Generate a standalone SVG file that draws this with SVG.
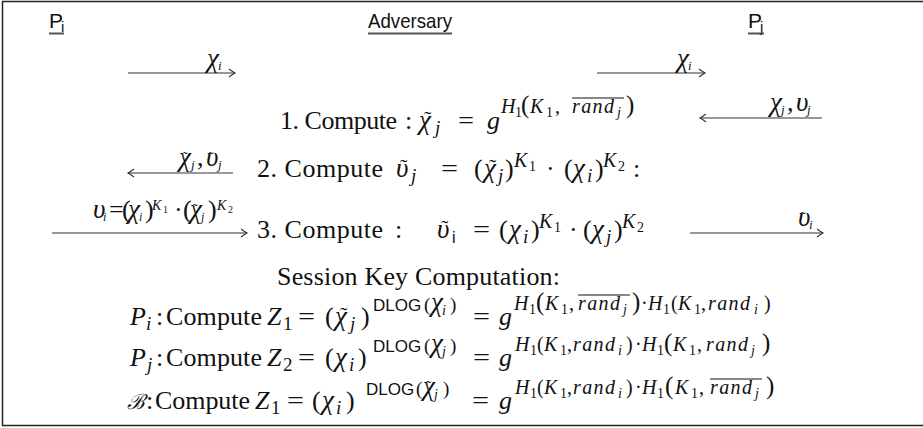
<svg xmlns="http://www.w3.org/2000/svg" width="923" height="428" viewBox="0 0 923 428">
<style>
.t{font-family:"Liberation Serif",serif;font-size:26px;fill:#111}
.i{font-style:italic}
.g{font-family:"Liberation Serif",serif;font-style:italic;font-size:27px}
.sf{font-family:"Liberation Sans",sans-serif}
.h{font-family:"Liberation Sans",sans-serif;font-size:21px;fill:#111}
.ul{stroke:#555;stroke-width:2}
.ar{stroke:#333;stroke-width:1.1;fill:none}
.ov{stroke:#111;stroke-width:1}
.rd{font-style:italic;font-size:20px;letter-spacing:1.4px}
</style>
<defs>
<marker id="ah" markerUnits="userSpaceOnUse" markerWidth="12" markerHeight="12" refX="0" refY="0" viewBox="-8 -6 10 12" orient="auto">
<path d="M-6,-4 Q-2,-1 0,0 Q-2,1 -6,4" fill="none" stroke="#333" stroke-width="1.1"/>
</marker>
</defs>
<rect x="2.5" y="1.5" width="930" height="424" fill="#fff" stroke="#222" stroke-width="1.5"/>
<g id="Pi"><text class="h" x="49" y="28">P<tspan font-size="15" x="61" y="32">i</tspan></text><line class="ul" x1="49" y1="33.5" x2="64" y2="33.5"/></g>
<g id="Adversary"><text class="h" x="368" y="28" textLength="84" lengthAdjust="spacingAndGlyphs">Adversary</text><line class="ul" x1="368" y1="33.5" x2="452" y2="33.5"/></g>
<g id="Pj"><text class="h" x="748" y="28">P<tspan font-size="15" x="760" y="32">j</tspan></text><line class="ul" x1="748" y1="33.5" x2="764" y2="33.5"/></g>
<g id="connectors">
<line class="ar" x1="128" y1="73" x2="235" y2="73" marker-end="url(#ah)"/>
<line class="ar" x1="597" y1="73" x2="705" y2="73" marker-end="url(#ah)"/>
<line class="ar" x1="822" y1="118" x2="700" y2="118" marker-end="url(#ah)"/>
<line class="ar" x1="233" y1="173" x2="128" y2="173" marker-end="url(#ah)"/>
<line class="ar" x1="52" y1="233" x2="247" y2="233" marker-end="url(#ah)"/>
<line class="ar" x1="690" y1="233" x2="823" y2="233" marker-end="url(#ah)"/>
<text class="t" font-size="17"><tspan class="g" font-size="19" x="207" y="67">χ</tspan><tspan class="i" font-size="13" x="218" y="70">i</tspan></text>
<text class="t" font-size="17"><tspan class="g" font-size="19" x="677" y="67">χ</tspan><tspan class="i" font-size="13" x="688" y="70">i</tspan></text>
<text class="t" font-size="17"><tspan class="g" font-size="19" x="770" y="111">χ</tspan><tspan class="i" font-size="13" x="781" y="114">j</tspan><tspan x="787" y="111">,</tspan><tspan class="g" font-size="19" x="796" y="111">υ</tspan><tspan class="i" font-size="13" x="807" y="114">j</tspan></text>
<text class="t" font-size="17"><tspan class="g" font-size="19" x="179" y="166">χ</tspan><tspan font-size="14" x="183" y="162">˜</tspan><tspan class="i" font-size="13" x="191" y="169">j</tspan><tspan x="197" y="166">,</tspan><tspan class="g" font-size="19" x="206" y="166">υ</tspan><tspan font-size="14" x="209" y="162">˜</tspan><tspan class="i" font-size="13" x="218" y="169">j</tspan></text>
<text class="t" font-size="18"><tspan class="g" font-size="18" x="93" y="218">υ</tspan><tspan class="i" font-size="12" x="103" y="221">i</tspan><tspan x="109" y="218">=</tspan><tspan x="122" y="218">(</tspan><tspan class="g" font-size="18" x="128" y="218">χ</tspan><tspan class="i" font-size="12" x="139" y="221">i</tspan><tspan x="145" y="218">)</tspan><tspan class="i" font-size="14" x="152" y="210">K</tspan><tspan font-size="10" x="163" y="213">1</tspan><tspan x="174" y="218">·</tspan><tspan x="183" y="218">(</tspan><tspan class="g" font-size="18" x="190" y="218">χ</tspan><tspan font-size="14" x="193" y="214">˜</tspan><tspan class="i" font-size="12" x="201" y="221">j</tspan><tspan x="208" y="218">)</tspan><tspan class="i" font-size="14" x="217" y="210">K</tspan><tspan font-size="10" x="228" y="213">2</tspan></text>
<text class="t" font-size="17"><tspan class="g" font-size="19" x="798" y="226">υ</tspan><tspan font-size="14" x="801" y="222">˜</tspan><tspan class="i" font-size="13" x="809" y="229">i</tspan></text>
</g>
<g id="step1">
<text class="t" x="280" y="129" textLength="117">1. Compute</text>
<text class="t" x="458" y="129" textLength="16" lengthAdjust="spacingAndGlyphs">=</text>
<text class="t"><tspan x="405" y="129">:</tspan><tspan class="g" x="419" y="129">χ</tspan><tspan font-size="22" x="424" y="126">˜</tspan><tspan class="i" font-size="19" x="435" y="134">j</tspan><tspan class="i" x="487" y="129">g</tspan><tspan class="i" font-size="20" x="501" y="113">H</tspan><tspan font-size="14" x="515" y="117">1</tspan><tspan font-size="25" x="521" y="113">(</tspan><tspan class="i" font-size="20" x="530" y="113">K</tspan><tspan font-size="14" x="546" y="117">1</tspan><tspan font-size="20" x="555" y="113">,</tspan><tspan class="rd" x="572" y="113">rand</tspan><tspan class="i" font-size="14" x="617" y="117">j</tspan><tspan font-size="25" x="626" y="113">)</tspan></text>
<line class="ov" x1="572" y1="98" x2="624" y2="98"/>
</g>
<g id="step2">
<text class="t" x="257" y="177" textLength="126">2. Compute</text>
<text class="t" x="441" y="177" textLength="17" lengthAdjust="spacingAndGlyphs">=</text>
<text class="t"><tspan class="g" x="396" y="177">υ</tspan><tspan font-size="22" x="400" y="174">˜</tspan><tspan class="i" font-size="19" x="411" y="182">j</tspan><tspan x="474" y="177">(</tspan><tspan class="g" x="484" y="177">χ</tspan><tspan font-size="22" x="489" y="174">˜</tspan><tspan class="i" font-size="19" x="498" y="182">j</tspan><tspan x="505" y="177">)</tspan><tspan class="i" font-size="20" x="514" y="167">K</tspan><tspan font-size="14" x="529" y="171">1</tspan><tspan x="546" y="177">·</tspan><tspan x="564" y="177">(</tspan><tspan class="g" x="573" y="177">χ</tspan><tspan class="i" font-size="19" x="587" y="182">i</tspan><tspan x="595" y="177">)</tspan><tspan class="i" font-size="20" x="603" y="167">K</tspan><tspan font-size="14" x="618" y="171">2</tspan><tspan x="633" y="177">:</tspan></text>
</g>
<g id="step3">
<text class="t" x="257" y="238" textLength="126">3. Compute</text>
<text class="t" x="473" y="238" textLength="17" lengthAdjust="spacingAndGlyphs">=</text>
<text class="t"><tspan x="395" y="238">:</tspan><tspan class="g" x="437" y="238">υ</tspan><tspan font-size="22" x="441" y="235">˜</tspan><tspan class="sf" font-size="16" x="452" y="243">i</tspan><tspan x="499" y="238">(</tspan><tspan class="g" x="509" y="238">χ</tspan><tspan class="i" font-size="19" x="523" y="243">i</tspan><tspan x="531" y="238">)</tspan><tspan class="i" font-size="20" x="539" y="228">K</tspan><tspan font-size="14" x="554" y="232">1</tspan><tspan x="569" y="238">·</tspan><tspan x="583" y="238">(</tspan><tspan class="g" x="592" y="238">χ</tspan><tspan class="i" font-size="19" x="606" y="243">j</tspan><tspan x="614" y="238">)</tspan><tspan class="i" font-size="20" x="622" y="228">K</tspan><tspan font-size="14" x="637" y="232">2</tspan></text>
</g>
<g id="session">
<text class="t" x="277" y="285" textLength="283">Session Key Computation:</text>
</g>
<g id="zi">
<text class="t" x="166" y="325" textLength="96">Compute</text>
<text class="t" x="298" y="325" textLength="17" lengthAdjust="spacingAndGlyphs">=</text>
<text class="t" x="473" y="325" textLength="17" lengthAdjust="spacingAndGlyphs">=</text>
<text class="t"><tspan class="i" x="130" y="325">P</tspan><tspan class="i" font-size="19" x="146" y="330">i</tspan><tspan x="156" y="325">:</tspan><tspan class="i" x="267" y="325">Z</tspan><tspan font-size="19" x="283" y="330">1</tspan><tspan x="325" y="325">(</tspan><tspan class="g" x="335" y="325">χ</tspan><tspan font-size="22" x="340" y="322">˜</tspan><tspan class="i" font-size="19" x="350" y="330">j</tspan><tspan x="361" y="325">)</tspan><tspan class="sf" font-size="17" x="373" y="311">DLOG</tspan><tspan font-size="19" x="424" y="311">(</tspan><tspan class="g" font-size="20" x="431" y="311">χ</tspan><tspan class="i" font-size="14" x="442" y="315">i</tspan><tspan font-size="19" x="450" y="311">)</tspan><tspan class="i" x="499" y="325">g</tspan><tspan class="i" font-size="20" x="514" y="310">H</tspan><tspan font-size="14" x="529" y="314">1</tspan><tspan font-size="25" x="536" y="310">(</tspan><tspan class="i" font-size="20" x="545" y="310">K</tspan><tspan font-size="14" x="561" y="314">1</tspan><tspan font-size="20" x="569" y="310">,</tspan><tspan class="rd" x="578" y="310">rand</tspan><tspan class="i" font-size="14" x="623" y="314">j</tspan><tspan font-size="25" x="632" y="310">)</tspan><tspan font-size="20" x="641" y="310">·</tspan><tspan class="i" font-size="20" x="648" y="310">H</tspan><tspan font-size="14" x="663" y="314">1</tspan><tspan font-size="20" x="671" y="310">(</tspan><tspan class="i" font-size="20" x="678" y="310">K</tspan><tspan font-size="14" x="694" y="314">1</tspan><tspan font-size="20" x="701" y="310">,</tspan><tspan class="rd" x="708" y="310">rand</tspan><tspan class="i" font-size="14" x="754" y="314">i</tspan><tspan font-size="20" x="764" y="310">)</tspan></text>
<line class="ov" x1="578" y1="295" x2="630" y2="295"/>
</g>
<g id="zj">
<text class="t" x="166" y="366" textLength="96">Compute</text>
<text class="t" x="298" y="366" textLength="17" lengthAdjust="spacingAndGlyphs">=</text>
<text class="t" x="473" y="366" textLength="17" lengthAdjust="spacingAndGlyphs">=</text>
<text class="t"><tspan class="i" x="130" y="366">P</tspan><tspan class="i" font-size="19" x="147" y="371">j</tspan><tspan x="156" y="366">:</tspan><tspan class="i" x="267" y="366">Z</tspan><tspan font-size="19" x="283" y="371">2</tspan><tspan x="325" y="366">(</tspan><tspan class="g" x="335" y="366">χ</tspan><tspan class="i" font-size="19" x="349" y="371">i</tspan><tspan x="358" y="366">)</tspan><tspan class="sf" font-size="17" x="373" y="352">DLOG</tspan><tspan font-size="19" x="424" y="352">(</tspan><tspan class="g" font-size="20" x="431" y="352">χ</tspan><tspan class="i" font-size="14" x="442" y="356">j</tspan><tspan font-size="19" x="450" y="352">)</tspan><tspan class="i" x="499" y="366">g</tspan><tspan class="i" font-size="20" x="515" y="351">H</tspan><tspan font-size="14" x="530" y="355">1</tspan><tspan font-size="20" x="537" y="351">(</tspan><tspan class="i" font-size="20" x="544" y="351">K</tspan><tspan font-size="14" x="560" y="355">1</tspan><tspan font-size="20" x="567" y="351">,</tspan><tspan class="rd" x="573" y="351">rand</tspan><tspan class="i" font-size="14" x="618" y="355">i</tspan><tspan font-size="20" x="626" y="351">)</tspan><tspan font-size="20" x="635" y="351">·</tspan><tspan class="i" font-size="20" x="642" y="351">H</tspan><tspan font-size="14" x="657" y="355">1</tspan><tspan font-size="25" x="664" y="351">(</tspan><tspan class="i" font-size="20" x="673" y="351">K</tspan><tspan font-size="14" x="689" y="355">1</tspan><tspan font-size="20" x="697" y="351">,</tspan><tspan class="rd" x="706" y="351">rand</tspan><tspan class="i" font-size="14" x="751" y="355">j</tspan><tspan font-size="25" x="762" y="351">)</tspan></text>
</g>
<g id="zb">
<text class="t" x="155" y="409" textLength="95">Compute</text>
<text class="t" x="287" y="409" textLength="17" lengthAdjust="spacingAndGlyphs">=</text>
<text class="t" x="472" y="409" textLength="17" lengthAdjust="spacingAndGlyphs">=</text>
<text class="t"><tspan font-family="DejaVu Serif" font-style="italic" font-size="21" x="127" y="409">ℬ</tspan><tspan x="146" y="409">:</tspan><tspan class="i" x="255" y="409">Z</tspan><tspan font-size="19" x="271" y="414">1</tspan><tspan x="312" y="409">(</tspan><tspan class="g" x="322" y="409">χ</tspan><tspan class="i" font-size="19" x="336" y="414">i</tspan><tspan x="346" y="409">)</tspan><tspan class="sf" font-size="17" x="366" y="395">DLOG</tspan><tspan font-size="19" x="416" y="395">(</tspan><tspan class="g" font-size="20" x="423" y="395">χ</tspan><tspan font-size="16" x="426" y="392">˜</tspan><tspan class="i" font-size="14" x="434" y="399">j</tspan><tspan font-size="19" x="443" y="395">)</tspan><tspan class="i" x="499" y="409">g</tspan><tspan class="i" font-size="20" x="515" y="394">H</tspan><tspan font-size="14" x="530" y="398">1</tspan><tspan font-size="20" x="537" y="394">(</tspan><tspan class="i" font-size="20" x="544" y="394">K</tspan><tspan font-size="14" x="560" y="398">1</tspan><tspan font-size="20" x="567" y="394">,</tspan><tspan class="rd" x="573" y="394">rand</tspan><tspan class="i" font-size="14" x="618" y="398">i</tspan><tspan font-size="20" x="626" y="394">)</tspan><tspan font-size="20" x="635" y="394">·</tspan><tspan class="i" font-size="20" x="642" y="394">H</tspan><tspan font-size="14" x="657" y="398">1</tspan><tspan font-size="25" x="665" y="394">(</tspan><tspan class="i" font-size="20" x="675" y="394">K</tspan><tspan font-size="14" x="691" y="398">1</tspan><tspan font-size="20" x="699" y="394">,</tspan><tspan class="rd" x="710" y="394">rand</tspan><tspan class="i" font-size="14" x="755" y="398">j</tspan><tspan font-size="25" x="766" y="394">)</tspan></text>
<line class="ov" x1="710" y1="379" x2="762" y2="379"/>
</g>
</svg>
